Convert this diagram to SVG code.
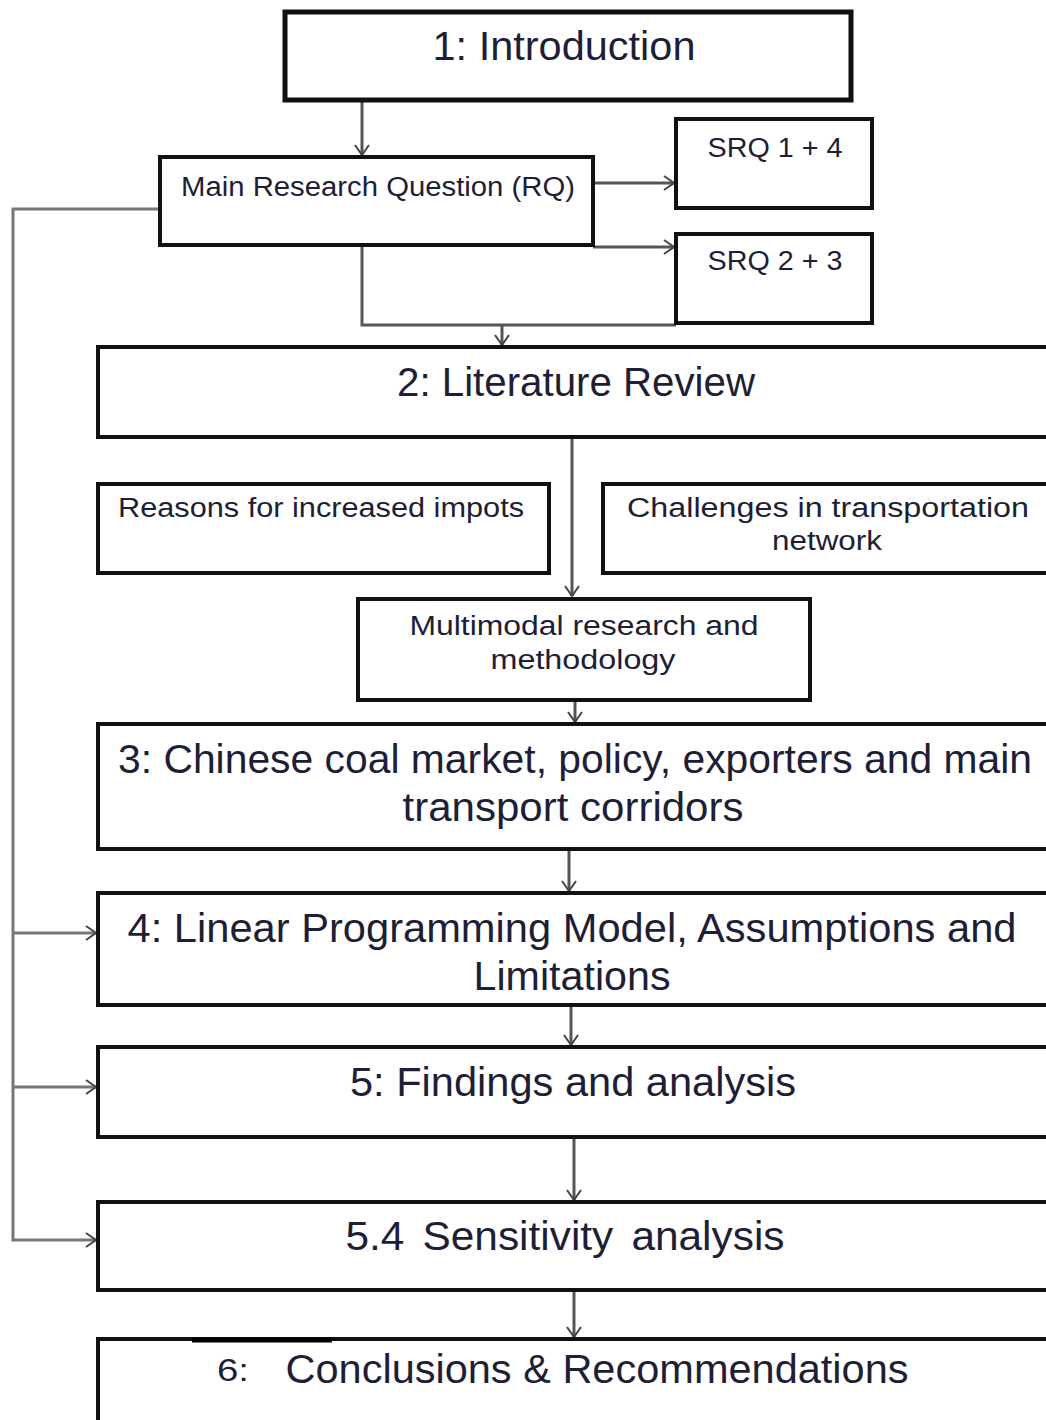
<svg xmlns="http://www.w3.org/2000/svg" width="1046" height="1420" viewBox="0 0 1046 1420">
  <style>
    .box { fill: #ffffff; stroke: #111111; stroke-width: 4; }
    .thick { stroke-width: 5; }
    .t { font-family: "Liberation Sans", Arial, sans-serif; fill: #1e1e36; text-anchor: middle; }
    .big { font-size: 40px; }
    .small { font-size: 27px; }
    .conn { fill: none; stroke: #555555; stroke-width: 3; }
    .bus { fill: none; stroke: #777777; stroke-width: 3; }
  </style>
  <defs>
    <marker id="arrow" markerUnits="userSpaceOnUse" markerWidth="14" markerHeight="16" viewBox="0 0 14 16" refX="12" refY="8" orient="auto">
      <path d="M2,1 L12,8 L2,15" fill="none" stroke="#444444" stroke-width="2"/>
    </marker>
  </defs>
  <rect width="1046" height="1420" fill="#ffffff"/>

  <!-- connectors -->
  <g id="connectors">
    <line class="conn" x1="362" y1="100" x2="362" y2="155" marker-end="url(#arrow)"/>
    <line class="conn" x1="593" y1="183" x2="674" y2="183" marker-end="url(#arrow)"/>
    <line class="conn" x1="593" y1="247" x2="674" y2="247" marker-end="url(#arrow)"/>
    <path class="conn" d="M362,245 V325 H676"/>
    <line class="conn" x1="502" y1="325" x2="502" y2="345" marker-end="url(#arrow)"/>
    <line class="conn" x1="572" y1="437" x2="572" y2="596" marker-end="url(#arrow)"/>
    <line class="conn" x1="575" y1="700" x2="575" y2="722" marker-end="url(#arrow)"/>
    <line class="conn" x1="569" y1="849" x2="569" y2="891" marker-end="url(#arrow)"/>
    <line class="conn" x1="571" y1="1005" x2="571" y2="1045" marker-end="url(#arrow)"/>
    <line class="conn" x1="574" y1="1137" x2="574" y2="1200" marker-end="url(#arrow)"/>
    <line class="conn" x1="574" y1="1290" x2="574" y2="1337" marker-end="url(#arrow)"/>
    <path class="bus" d="M160,209 H13 V1240 H96" marker-end="url(#arrow)"/>
    <line class="bus" x1="13" y1="933" x2="96" y2="933" marker-end="url(#arrow)"/>
    <line class="bus" x1="13" y1="1087" x2="96" y2="1087" marker-end="url(#arrow)"/>
  </g>

  <g id="intro">
    <rect class="box thick" x="285" y="12" width="566" height="88"/>
    <text class="t big" x="564" y="60" textLength="263" lengthAdjust="spacingAndGlyphs">1: Introduction</text>
  </g>

  <g id="main-rq">
    <rect class="box" x="160" y="157" width="433" height="88"/>
    <text class="t small" x="378" y="196" textLength="394" lengthAdjust="spacingAndGlyphs">Main Research Question (RQ)</text>
  </g>

  <g id="srq-1-4">
    <rect class="box" x="676" y="119" width="196" height="89"/>
    <text class="t small" x="775" y="157" textLength="135" lengthAdjust="spacingAndGlyphs">SRQ 1 + 4</text>
  </g>

  <g id="srq-2-3">
    <rect class="box" x="676" y="234" width="196" height="89"/>
    <text class="t small" x="775" y="270" textLength="135" lengthAdjust="spacingAndGlyphs">SRQ 2 + 3</text>
  </g>

  <g id="literature-review">
    <rect class="box" x="98" y="347" width="970" height="90"/>
    <text class="t big" x="576" y="396" textLength="358" lengthAdjust="spacingAndGlyphs">2: Literature Review</text>
  </g>

  <g id="reasons">
    <rect class="box" x="98" y="484" width="451" height="89"/>
    <text class="t small" x="321" y="517" textLength="406" lengthAdjust="spacingAndGlyphs">Reasons for increased impots</text>
  </g>

  <g id="challenges">
    <rect class="box" x="603" y="484" width="465" height="89"/>
    <text class="t small" x="828" y="517" textLength="402" lengthAdjust="spacingAndGlyphs">Challenges in transportation</text>
    <text class="t small" x="827" y="550" textLength="110" lengthAdjust="spacingAndGlyphs">network</text>
  </g>

  <g id="multimodal">
    <rect class="box" x="358" y="599" width="452" height="101"/>
    <text class="t small" x="584" y="635" textLength="349" lengthAdjust="spacingAndGlyphs">Multimodal research and</text>
    <text class="t small" x="583" y="669" textLength="185" lengthAdjust="spacingAndGlyphs">methodology</text>
  </g>

  <g id="chapter-3">
    <rect class="box" x="98" y="724" width="970" height="125"/>
    <text class="t big" x="575" y="773" textLength="914" lengthAdjust="spacingAndGlyphs">3: Chinese coal market, policy, exporters and main</text>
    <text class="t big" x="573" y="821" textLength="341" lengthAdjust="spacingAndGlyphs">transport corridors</text>
  </g>

  <g id="chapter-4">
    <rect class="box" x="98" y="893" width="970" height="112"/>
    <text class="t big" x="572" y="942" textLength="889" lengthAdjust="spacingAndGlyphs">4: Linear Programming Model, Assumptions and</text>
    <text class="t big" x="572" y="990" textLength="197" lengthAdjust="spacingAndGlyphs">Limitations</text>
  </g>

  <g id="chapter-5">
    <rect class="box" x="98" y="1047" width="970" height="90"/>
    <text class="t big" x="573" y="1096" textLength="446" lengthAdjust="spacingAndGlyphs">5: Findings and analysis</text>
  </g>

  <g id="chapter-5-4">
    <rect class="box" x="98" y="1202" width="970" height="88"/>
    <text class="t big" x="565" y="1250" textLength="439" lengthAdjust="spacingAndGlyphs" word-spacing="6">5.4 Sensitivity analysis</text>
  </g>

  <g id="chapter-6">
    <rect class="box" x="98" y="1339" width="970" height="110"/>
    <line x1="192" y1="1340" x2="332" y2="1340" stroke="#000000" stroke-width="5"/>
    <text class="t" x="233" y="1381" font-size="32" fill="#111111" textLength="32" lengthAdjust="spacingAndGlyphs">6:</text>
    <text class="t big" x="597" y="1383" textLength="623" lengthAdjust="spacingAndGlyphs">Conclusions &amp; Recommendations</text>
  </g>
</svg>
